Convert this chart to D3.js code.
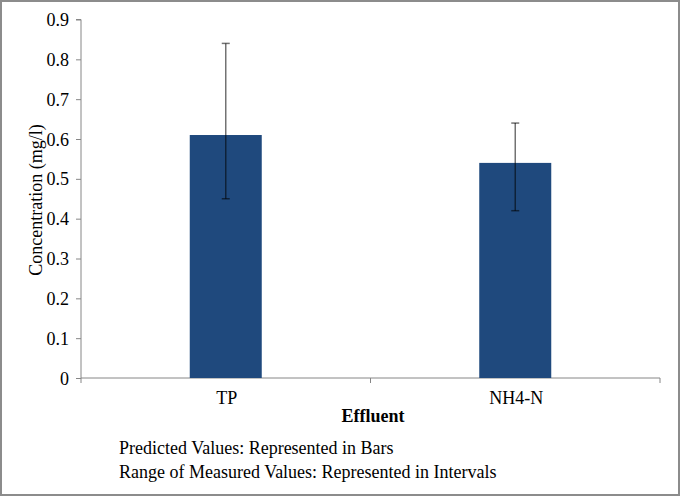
<!DOCTYPE html>
<html><head><meta charset="utf-8">
<script src="https://cdn.jsdelivr.net/npm/d3@7"></script>
<style>
html,body{margin:0;padding:0;background:#fff;}
svg{display:block;}
</style></head>
<body>
<svg id="c" width="680" height="496"></svg>
<script>
const categories = ["TP", "NH4-N"];
const predicted = [0.61, 0.54];
const measuredLow = [0.45, 0.42];
const measuredHigh = [0.84, 0.64];
const yTicks = [0, 0.1, 0.2, 0.3, 0.4, 0.5, 0.6, 0.7, 0.8, 0.9];
const notes = ["Predicted Values: Represented in Bars", "Range of Measured Values: Represented in Intervals"];

(function(){
const FONT = "Liberation Serif";
const FS = 18;
const svg = d3.select("#c");
const W = 680, H = 496;
svg.append("rect").attr("x",1).attr("y",1).attr("width",W-2).attr("height",H-2)
  .attr("fill","#fff").attr("stroke","#8c8c8c").attr("stroke-width",2);

const pl = 81, pr = 660, pt = 19.5, pb = 378;
const x = d3.scaleBand().domain(categories).range([pl, pr]).paddingInner(0).paddingOuter(0);
const y = d3.scaleLinear().domain([0, 0.9]).range([pb, pt]);
const axisColor = "#868686";

// y axis
const ya = svg.append("g").attr("transform",`translate(${pl},0)`)
  .call(d3.axisLeft(y).tickValues(yTicks).tickSize(5).tickPadding(7).tickFormat(d => String(+d.toFixed(1))));
ya.attr("font-family",FONT).attr("font-size",FS);
ya.select(".domain").attr("stroke",axisColor).attr("d",`M-5,${pt}H0V${pb}`);
ya.selectAll(".tick line").attr("stroke",axisColor);
ya.selectAll(".tick text").attr("fill","#000").attr("dy","0.34em");

// x axis
const xa = svg.append("g").attr("transform",`translate(0,${pb})`).attr("font-family",FONT).attr("font-size",FS);
xa.append("path").attr("d",`M${pl},0H${pr}`).attr("stroke",axisColor).attr("fill","none");
const bounds = [pl, ...categories.map(c => x(c) + x.bandwidth())];
xa.selectAll("line.t").data(bounds).join("line").attr("class","t")
  .attr("x1",d=>d).attr("x2",d=>d).attr("y1",0).attr("y2",5).attr("stroke",axisColor);
xa.selectAll("text.c").data(categories).join("text").attr("class","c")
  .attr("x",d=>x(d)+x.bandwidth()/2+1).attr("y",26).attr("text-anchor","middle")
  .text(d=>d);

// bars
const bw = 72;
svg.selectAll("rect.bar").data(categories).join("rect").attr("class","bar")
  .attr("x",d=>x(d)+x.bandwidth()/2-bw/2).attr("width",bw)
  .attr("y",(d,i)=>y(predicted[i])).attr("height",(d,i)=>y(0)-y(predicted[i]))
  .attr("fill","#1F497D");

// error bars
const eb = svg.append("g").attr("stroke","#000").attr("stroke-opacity",0.55).attr("stroke-width",1.5);
categories.forEach((c,i)=>{
  const cx = x(c)+x.bandwidth()/2;
  eb.append("line").attr("x1",cx).attr("x2",cx).attr("y1",y(measuredHigh[i])).attr("y2",y(measuredLow[i]));
  eb.append("line").attr("x1",cx-4).attr("x2",cx+4).attr("y1",y(measuredHigh[i])).attr("y2",y(measuredHigh[i]));
  eb.append("line").attr("x1",cx-4).attr("x2",cx+4).attr("y1",y(measuredLow[i])).attr("y2",y(measuredLow[i]));
});

// axis titles
svg.append("text").attr("transform",`translate(42,200) rotate(-90)`)
  .attr("font-family",FONT).attr("font-size",FS)
  .attr("text-anchor","middle").text("Concentration (mg/l)");
svg.append("text").attr("x",373).attr("y",421.5).attr("text-anchor","middle")
  .attr("font-family",FONT).attr("font-size",FS).attr("font-weight","bold").text("Effluent");

// notes
svg.selectAll("text.note").data(notes).join("text").attr("class","note")
  .attr("font-family",FONT).attr("font-size",FS)
  .attr("x",119).attr("y",(d,i)=>453.5+i*24).text(d=>d);
})();
</script>
</body></html>
